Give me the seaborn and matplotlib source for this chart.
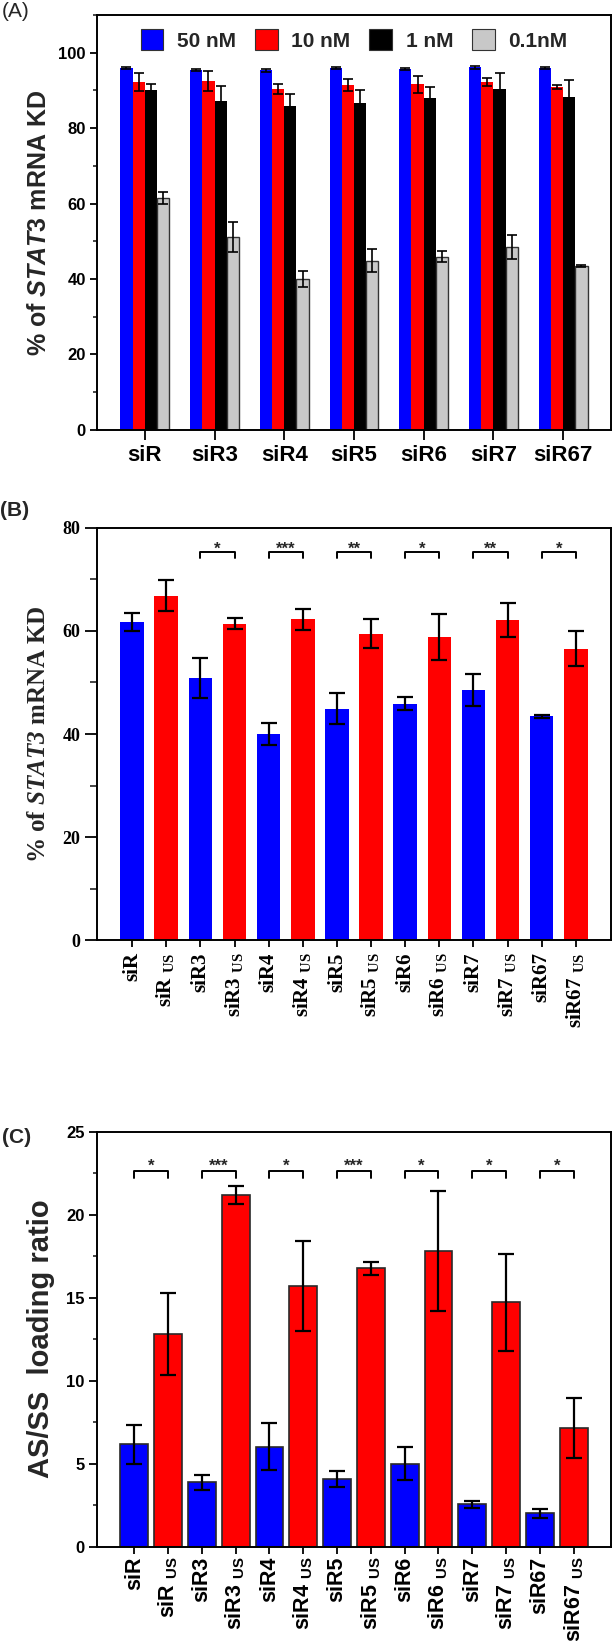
import numpy as np
import pandas as pd
import matplotlib
matplotlib.use("Agg")
import matplotlib.pyplot as plt
from matplotlib.ticker import MultipleLocator
import seaborn as sns

# ---- Panel A: knockdown at four concentrations ----
GROUPS = ["siR", "siR3", "siR4", "siR5", "siR6", "siR7", "siR67"]
CONCS = ["50 nM", "10 nM", "1 nM", "0.1nM"]
A_50 = [95.9, 95.4, 95.3, 95.9, 95.7, 96.1, 95.9]
A_50_ERR = [0.3, 0.3, 0.3, 0.3, 0.3, 0.3, 0.3]
A_10 = [92.2, 92.5, 90.3, 91.4, 91.6, 92.2, 90.9]
A_10_ERR = [2.4, 2.7, 1.3, 1.5, 2.2, 1.0, 0.6]
A_1 = [90.0, 87.2, 85.8, 86.6, 87.9, 90.4, 88.2]
A_1_ERR = [1.8, 4.0, 3.2, 3.6, 3.1, 4.1, 4.5]
A_01 = [61.6, 51.1, 40.0, 44.9, 45.9, 48.4, 43.5]
A_01_ERR = [1.6, 4.0, 2.2, 3.1, 1.4, 3.2, 0.3]

# ---- Panel B: knockdown, standard vs US ----
B_PLAIN = [61.7, 50.9, 40.0, 44.9, 45.9, 48.5, 43.4]
B_PLAIN_ERR = [1.7, 3.9, 2.2, 3.0, 1.3, 3.1, 0.3]
B_US = [66.8, 61.4, 62.2, 59.4, 58.8, 62.1, 56.5]
B_US_ERR = [3.0, 1.1, 2.0, 2.8, 4.4, 3.3, 3.4]
B_STARS = ["", "*", "***", "**", "*", "**", "*"]

# ---- Panel C: AS/SS loading ratio ----
C_PLAIN = [6.17, 3.87, 6.03, 4.09, 5.0, 2.56, 2.02]
C_PLAIN_ERR = [1.17, 0.44, 1.4, 0.47, 0.99, 0.22, 0.28]
C_US = [12.82, 21.2, 15.7, 16.76, 17.82, 14.72, 7.16]
C_US_ERR = [2.47, 0.55, 2.7, 0.4, 3.6, 2.92, 1.8]
C_STARS = ["*", "***", "*", "***", "*", "*", "*"]

BLUE = "#0000ff"
RED = "#ff0000"
BLACK = "#000000"
GRAY = "#c8c8c8"

SANS = "Liberation Sans"
SERIF = "Liberation Serif"

sns.set_style("ticks")
plt.rcParams["font.family"] = [SANS, "DejaVu Sans"]
plt.rcParams["mathtext.fontset"] = "custom"
plt.rcParams["mathtext.rm"] = "Liberation Sans:bold"
plt.rcParams["mathtext.it"] = "Liberation Sans:italic:bold"
plt.rcParams["mathtext.cal"] = "Liberation Serif:italic:bold"
plt.rcParams["mathtext.bf"] = "Liberation Serif:bold"
plt.rcParams["mathtext.sf"] = "Liberation Sans:bold"

LEFT, WIDTH = 0.158, 0.837


def style_axes(ax, major, minor, family, size, ylen, ylen_minor, xlen):
    for sp in ax.spines.values():
        sp.set_visible(True)
        sp.set_linewidth(1.4)
        sp.set_color("black")
    ax.yaxis.set_major_locator(MultipleLocator(major))
    ax.yaxis.set_minor_locator(MultipleLocator(minor))
    ax.tick_params(axis="y", which="major", direction="out", length=ylen,
                   width=1.3, colors="black", pad=3)
    ax.tick_params(axis="y", which="minor", direction="out",
                   length=ylen_minor, width=1.2)
    ax.tick_params(axis="x", which="major", direction="out", length=xlen,
                   width=1.3, colors="black")
    for lab in ax.get_yticklabels():
        lab.set_fontfamily(family)
        lab.set_fontweight("bold")
        lab.set_fontsize(size)
    ax.set_xlabel("")


def bracket(ax, x0, x1, y, leg, ystar, star, fs):
    ax.plot([x0, x0, x1, x1], [y - leg, y, y, y - leg], color="black", lw=1.4)
    # asterisk glyph sits high in the em box: shift baseline down
    ax.annotate(star, xy=((x0 + x1) / 2, ystar), xytext=(0, -0.58 * fs),
                textcoords="offset points", ha="center", va="baseline",
                fontsize=fs, fontweight="bold", family=SANS)


fig = plt.figure(figsize=(6.14, 16.41), dpi=100)

# ================= Panel A =================
axA = fig.add_axes([LEFT, 0.7380, WIDTH, 0.2529])
dfA = pd.DataFrame({
    "group": GROUPS * 4,
    "conc": sum([[c] * len(GROUPS) for c in CONCS], []),
    "val": A_50 + A_10 + A_1 + A_01,
})
errsA = [A_50_ERR, A_10_ERR, A_1_ERR, A_01_ERR]
sns.barplot(data=dfA, x="group", y="val", hue="conc", order=GROUPS,
            hue_order=CONCS, palette=[BLUE, RED, BLACK, GRAY], width=0.7,
            errorbar=None, saturation=1, ax=axA)
bar_conts = list(axA.containers)[:4]
for k, cont in enumerate(bar_conts):
    xs = [b.get_x() + b.get_width() / 2 for b in cont]
    hs = [b.get_height() for b in cont]
    for b in cont:
        b.set_linewidth(1.0 if k == 3 else 0)
        b.set_edgecolor("#333333")
    axA.errorbar(xs, hs, yerr=errsA[k], fmt="none", ecolor="black",
                 elinewidth=1.2, capsize=3.5, capthick=1.2, zorder=5)
axA.set_ylim(0, 110)
style_axes(axA, 20, 10, SANS, 12, 5, 3, 7)
axA.set_ylabel(r"% of $\mathit{STAT3}$ mRNA KD", fontsize=18,
               fontweight="bold", family=SANS, labelpad=5)
for lab in axA.get_xticklabels():
    lab.set_fontsize(16)
    lab.set_fontweight("bold")
leg = axA.legend(loc="center", ncol=4, frameon=False,
                 bbox_to_anchor=(0.5, 0.9398), handlelength=1.1,
                 handleheight=1.15, columnspacing=0.9, handletextpad=0.65,
                 borderpad=0.2,
                 prop={"family": SANS, "weight": "bold", "size": 15})
for h in leg.legend_handles:
    h.set_edgecolor("#333333")
    h.set_linewidth(0.8)
fig.text(0.003, 0.9930, "(A)", fontsize=15, family=SANS, va="center")

# ================= Panel B =================
B_LABELS = []
B_VALS = []
B_ERRS = []
B_KIND = []
for i, g in enumerate(GROUPS):
    B_LABELS += [g, g + r" $_{\mathbf{US}}$"]
    B_VALS += [B_PLAIN[i], B_US[i]]
    B_ERRS += [B_PLAIN_ERR[i], B_US_ERR[i]]
    B_KIND += ["plain", "us"]

axB = fig.add_axes([LEFT, 0.4269, WIDTH, 0.2516])
dfB = pd.DataFrame({"label": B_LABELS, "val": B_VALS, "kind": B_KIND})
sns.barplot(data=dfB, x="label", y="val", hue="kind", order=B_LABELS,
            palette={"plain": BLUE, "us": RED}, dodge=False, width=0.69,
            errorbar=None, saturation=1, legend=False, ax=axB)
for p in axB.patches:
    p.set_linewidth(0)
xsB = axB.get_xticks()
axB.errorbar(xsB, B_VALS, yerr=B_ERRS, fmt="none", ecolor="black",
             elinewidth=1.6, capsize=6, capthick=1.6, zorder=5)
axB.set_ylim(0, 80)
style_axes(axB, 20, 10, SERIF, 13, 9, 5, 5)
axB.set_xticks(xsB)
axB.set_xticklabels(B_LABELS, rotation=90, family=SERIF, fontweight="bold",
                    fontsize=15)
axB.set_ylabel(r"% of $\mathcal{STAT3}$ mRNA KD", fontsize=18,
               fontweight="bold", family=SERIF, labelpad=9)
for i, s in enumerate(B_STARS):
    if s:
        bracket(axB, xsB[2 * i], xsB[2 * i + 1], 75.3, 1.2, 76.8, s, 12)
fig.text(0.0, 0.6892, "(B)", fontsize=15, fontweight="bold", family=SANS,
         va="center")

# ================= Panel C =================
axC = fig.add_axes([LEFT, 0.05747, WIDTH, 0.2529])
C_LABELS = []
C_VALS = []
C_ERRS = []
C_KIND = []
for i, g in enumerate(GROUPS):
    C_LABELS += [g, g + r" $_{\mathsf{US}}$"]
    C_VALS += [C_PLAIN[i], C_US[i]]
    C_ERRS += [C_PLAIN_ERR[i], C_US_ERR[i]]
    C_KIND += ["plain", "us"]
dfC = pd.DataFrame({"label": C_LABELS, "val": C_VALS, "kind": C_KIND})
sns.barplot(data=dfC, x="label", y="val", hue="kind", order=C_LABELS,
            palette={"plain": BLUE, "us": RED}, dodge=False, width=0.82,
            errorbar=None, saturation=1, legend=False, ax=axC,
            edgecolor="#2a2a2a", linewidth=1.2)
xsC = axC.get_xticks()
axC.errorbar(xsC, C_VALS, yerr=C_ERRS, fmt="none", ecolor="black",
             elinewidth=1.6, capsize=6, capthick=1.6, zorder=5)
axC.set_ylim(0, 25)
style_axes(axC, 5, 2.5, SANS, 12, 6, 3, 5)
axC.tick_params(axis="x", pad=2)
axC.set_xticks(xsC)
axC.set_xticklabels(C_LABELS, rotation=90, family=SANS, fontweight="bold",
                    fontsize=15.5)
axC.set_ylabel("AS/SS  loading ratio", fontsize=21, fontweight="bold",
               family=SANS, labelpad=8)
for i, s in enumerate(C_STARS):
    bracket(axC, xsC[2 * i], xsC[2 * i + 1], 22.65, 0.45, 23.2, s, 12)
fig.text(0.003, 0.3068, "(C)", fontsize=15, fontweight="bold", family=SANS,
         va="center")

fig.savefig("out.png", dpi=100)
